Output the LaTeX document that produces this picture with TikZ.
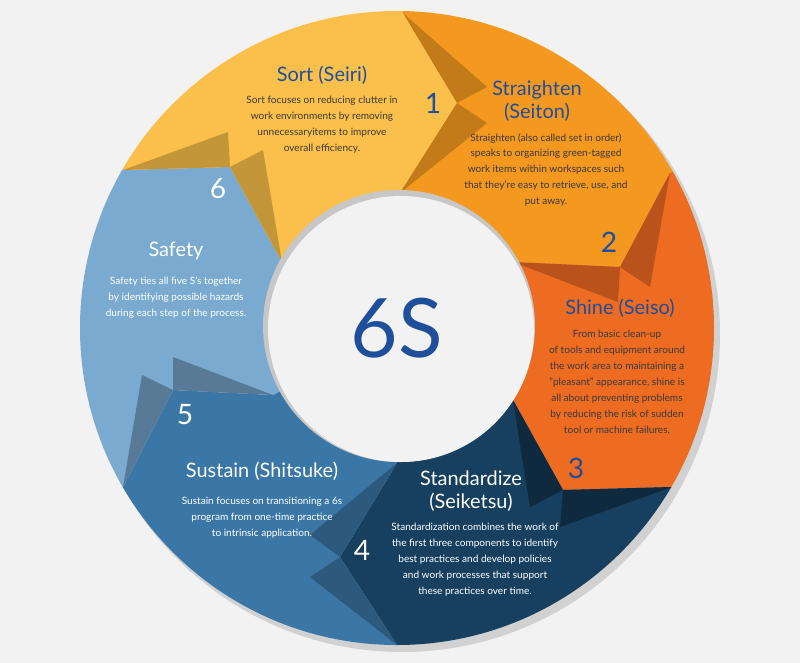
\documentclass[tikz,border=0pt]{standalone}
\usepackage{fontspec}
\setmainfont{Lato}
\usetikzlibrary{calc}
\begin{document}
\begin{tikzpicture}[x=0.03cm,y=-0.03cm,
  ttl/.style={font=\fontsize{17}{20}\selectfont, align=center, inner sep=0pt},
  bdy/.style={font=\fontsize{8.6}{13.6}\selectfont, align=center, inner sep=0pt},
  num/.style={font=\fontsize{24}{24}\selectfont, inner sep=0pt}]
\definecolor{bg}{HTML}{F2F2F2}
\definecolor{cSort}{HTML}{FBC04B}
\definecolor{cStr}{HTML}{F4981F}
\definecolor{cShi}{HTML}{EE6B22}
\definecolor{cSta}{HTML}{173F5F}
\definecolor{cSus}{HTML}{3B77A6}
\definecolor{cSaf}{HTML}{7AAAD0}
\definecolor{tblue}{HTML}{1F4E9A}
\definecolor{tgray}{HTML}{3A3A3A}
\fill[bg] (0,0) rectangle (800,663);
\useasboundingbox (0,0) rectangle (800,663);
\coordinate (C) at (397,328);
\fill[black!18] (402,334) circle[radius=318];
% boundaries: outer, tip, inner
\coordinate (o1) at (403,13);  \coordinate (t1) at (457,103); \coordinate (i1) at (400,193);
\coordinate (o2) at (670,173); \coordinate (t2) at (620,267); \coordinate (i2) at (513,262);
\coordinate (o3) at (672,487); \coordinate (t3) at (563,490); \coordinate (i3) at (513,400);
\coordinate (o4) at (397,645); \coordinate (t4) at (340,557); \coordinate (i4) at (397,463);
\coordinate (o5) at (123,487); \coordinate (t5) at (173,390); \coordinate (i5) at (273,395);
\coordinate (o6) at (123,170); \coordinate (t6) at (230,167); \coordinate (i6) at (282,262);
\begin{scope}
\clip (C) circle[radius=317];
\fill[cStr] (o1) -- (t1) -- (i1) -- (C) -- (i2) -- (t2) -- (o2) -- ($(C)!2.5!(o2)$) -- ($(C)!2.5!(o1)$) -- cycle;
\fill[cShi] (o2) -- (t2) -- (i2) -- (C) -- (i3) -- (t3) -- (o3) -- ($(C)!2.5!(o3)$) -- ($(C)!2.5!(o2)$) -- cycle;
\fill[cSta] (o3) -- (t3) -- (i3) -- (C) -- (i4) -- (t4) -- (o4) -- ($(C)!2.5!(o4)$) -- ($(C)!2.5!(o3)$) -- cycle;
\fill[cSus] (o4) -- (t4) -- (i4) -- (C) -- (i5) -- (t5) -- (o5) -- ($(C)!2.5!(o5)$) -- ($(C)!2.5!(o4)$) -- cycle;
\fill[cSaf] (o5) -- (t5) -- (i5) -- (C) -- (i6) -- (t6) -- (o6) -- ($(C)!2.5!(o6)$) -- ($(C)!2.5!(o5)$) -- cycle;
\fill[cSort] (o6) -- (t6) -- (i6) -- (C) -- (i1) -- (t1) -- (o1) -- ($(C)!2.5!(o1)$) -- ($(C)!2.5!(o6)$) -- cycle;
\fill[cStr!80!black] (o1) -- (487,87) -- (t1) -- cycle;
\fill[cStr!80!black] (t1) -- (487,123) -- (i1) -- cycle;
\fill[cShi!78!black] (o2) -- (650,287) -- (t2) -- cycle;
\fill[cShi!78!black] (t2) -- (618,302) -- (i2) -- cycle;
\fill[cSta!65!black] (i3) -- (530,507) -- (t3) -- cycle;
\fill[cSta!65!black] (t3) -- (560,527) -- (o3) -- cycle;
\fill[cSus!75!black] (i4) -- (310,535) -- (t4) -- cycle;
\fill[cSus!75!black] (t4) -- (310,577) -- (o4) -- cycle;
\fill[cSaf!72!black] (o5) -- (142,375) -- (t5) -- cycle;
\fill[cSaf!72!black] (t5) -- (173,357) -- (i5) -- cycle;
\fill[cSort!78!black] (o6) -- (228,132) -- (t6) -- cycle;
\fill[cSort!78!black] (t6) -- (263,150) -- (i6) -- cycle;
\end{scope}
\fill[black!22] (399,326) circle[radius=136];
\fill[bg] (401,329) circle[radius=133];
\node[font=\fontsize{70}{70}\selectfont, text=tblue, inner sep=0pt] (six) at (397,328) {6S};
\node[ttl, text=tblue] (sortT) at (322,75) {Sort (Seiri)};
\node[bdy, text=tgray, anchor=north] (sortB) at (322,96) {Sort focuses on reducing clutter in\\work environments by removing\\unnecessaryitems to improve\\overall efficiency.};
\node[num, text=tblue] (n1) at (433,103) {1};
\node[ttl, text=tblue] (strT) at (537,101) {Straighten\\(Seiton)};
\node[bdy, text=tgray, anchor=north] (strB) at (546,133) {Straighten (also called set in order)\\speaks to organizing green-tagged\\work items within workspaces such\\that they're easy to retrieve, use, and\\put away.};
\node[num, text=tblue] (n2) at (609,242) {2};
\node[ttl, text=tblue] (shiT) at (620,308) {Shine (Seiso)};
\node[bdy, text=tgray, anchor=north] (shiB) at (617,330) {From basic clean-up\\of tools and equipment around\\the work area to maintaining a\\"pleasant" appearance, shine is\\all about preventing problems\\by reducing the risk of sudden\\tool or machine failures.};
\node[num, text=tblue] (n3) at (576,468) {3};
\node[ttl, text=white] (staT) at (471,491) {Standardize\\(Seiketsu)};
\node[bdy, text=white, anchor=north] (staB) at (475,523) {Standardization combines the work of\\the first three components to identify\\best practices and develop policies\\and work processes that support\\these practices over time.};
\node[num, text=white] (n4) at (362,550) {4};
\node[ttl, text=white] (susT) at (262,471) {Sustain (Shitsuke)};
\node[bdy, text=white, anchor=north] (susB) at (262,497) {Sustain focuses on transitioning a 6s\\program from one-time practice\\to intrinsic application.};
\node[num, text=white] (n5) at (185,415) {5};
\node[ttl, text=white] (safT) at (176,251) {Safety};
\node[bdy, text=white, anchor=north] (safB) at (176,277) {Safety ties all five S's together\\by identifying possible hazards\\during each step of the process.};
\node[num, text=white] (n6) at (218,189) {6};
\end{tikzpicture}
\end{document}
